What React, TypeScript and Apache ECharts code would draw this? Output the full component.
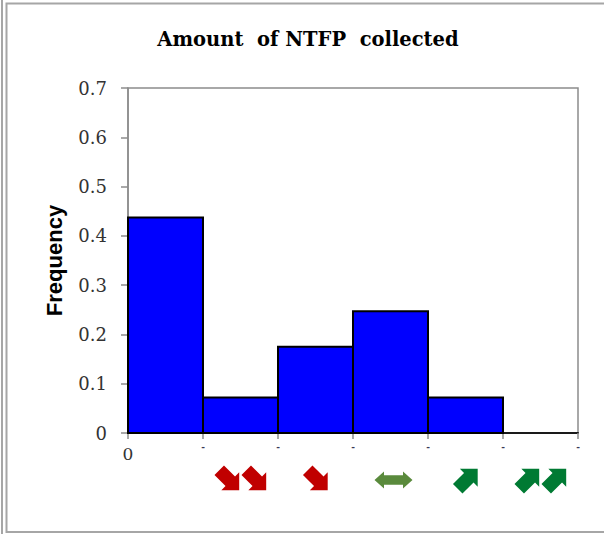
import React, { useEffect, useRef } from "react";
import * as echarts from "echarts";

const chartTitle = "Amount  of NTFP  collected";
const yAxisTitle = "Frequency";
const binStarts = [0, 1, 2, 3, 4, 5];
const binEnds = [1, 2, 3, 4, 5, 6];
const frequencies = [0.437, 0.072, 0.175, 0.247, 0.072, 0];
const yTicks = [0, 0.1, 0.2, 0.3, 0.4, 0.5, 0.6, 0.7];
const xTickLabels = ["0", "-", "-", "-", "-", "-", "-"];
// arrows under bins: bin index (0-based), kind
const arrowBins = [1, 2, 3, 4, 5];
const arrowKinds = ["down", "down", "both", "up", "up"];
const arrowCounts = [2, 1, 1, 1, 2];

const ARROW_D = "M-11.5 -5.6 L1.5 -5.6 L1.5 -10.5 L12 0 L1.5 10.5 L1.5 5.6 L-11.5 5.6 Z";
const DOUBLE_D = "M-19 0 L-9.5 -8.5 L-9.5 -4.8 L9.5 -4.8 L9.5 -8.5 L19 0 L9.5 8.5 L9.5 4.8 L-9.5 4.8 L-9.5 8.5 Z";

let registered = false;
function registerShapes() {
  if (registered) return;
  echarts.graphic.registerShape("arrowOne", echarts.graphic.extendPath(ARROW_D, {}));
  echarts.graphic.registerShape("arrowTwo", echarts.graphic.extendPath(DOUBLE_D, {}));
  registered = true;
}

export default function App() {
  const ref = useRef<HTMLDivElement>(null);
  useEffect(() => {
    document.body.style.margin = "0";
    registerShapes();
    const chart = echarts.init(ref.current!, undefined, { renderer: "svg" });
    const data = binStarts.map((s, i) => [s, binEnds[i], frequencies[i]]);
    const gridLeft = 128, gridTop = 88, gridW = 450, gridH = 345;
    chart.setOption({
      animation: false,
      backgroundColor: "#ffffff",
      grid: {
        left: gridLeft, top: gridTop, width: gridW, height: gridH,
        show: true, borderColor: "#8c8c8c", borderWidth: 1.5, backgroundColor: "transparent",
      },
      xAxis: {
        type: "value", min: 0, max: 6, interval: 1,
        axisLine: { show: true, lineStyle: { color: "#1a1a1a", width: 2 } },
        axisTick: { show: true, length: 6, lineStyle: { color: "#8c8c8c", width: 1.5 } },
        splitLine: { show: false },
        axisLabel: {
          margin: 12,
          formatter: (v: number) => {
            const t = xTickLabels[Math.round(v)];
            return t === "0" ? "{z|0}" : "{d|" + t + "}";
          },
          rich: {
            z: { fontFamily: "DejaVu Serif", fontSize: 17, color: "#333" },
            d: { fontFamily: "DejaVu Sans", fontSize: 9, fontWeight: "bold", color: "#3a3a55", padding: [-3, 0, 0, 0] },
          },
        },
      },
      yAxis: {
        type: "value", min: 0, max: 0.7, interval: 0.1,
        name: yAxisTitle, nameLocation: "middle", nameGap: 63, nameRotate: 90,
        nameTextStyle: { fontFamily: "Liberation Sans", fontWeight: "bold", fontSize: 22, color: "#000" },
        axisLine: { show: true, lineStyle: { color: "#8c8c8c", width: 1.5 } },
        axisTick: { show: true, length: 7, lineStyle: { color: "#8c8c8c", width: 1.5 } },
        splitLine: { show: false },
        axisLabel: {
          margin: 21,
          fontFamily: "DejaVu Serif", fontSize: 18, color: "#333",
          formatter: (v: number) => {
            const m = yTicks.find((t) => Math.abs(t - v) < 1e-9);
            return m === 0 ? "0" : (m ?? v).toFixed(1);
          },
        },
      },
      series: [
        {
          type: "custom",
          data,
          encode: { x: [0, 1], y: 2 },
          renderItem: (params: any, api: any) => {
            const v = api.value(2);
            if (!v) return null;
            const p0 = api.coord([api.value(0), v]);
            const p1 = api.coord([api.value(1), 0]);
            return {
              type: "rect",
              shape: { x: p0[0], y: p0[1], width: p1[0] - p0[0], height: p1[1] - p0[1] },
              style: { fill: "#0000ff", stroke: "#000000", lineWidth: 2 },
            };
          },
        },
      ],
    });

    const graphics: any[] = [
      { type: "line", shape: { x1: 2, y1: 0, x2: 2, y2: 534 }, style: { stroke: "#a6a6a6", lineWidth: 2 } },
      { type: "rect", shape: { x: 6.5, y: 3.5, width: 700, height: 528.5 }, style: { fill: "none", stroke: "#a6a6a6", lineWidth: 2 } },
      {
        type: "text", x: 308, y: 39,
        style: {
          text: chartTitle, align: "center", verticalAlign: "middle",
          font: "bold 19.5px 'DejaVu Serif'", fill: "#000",
        },
      },
    ];
    const baseY = chart.convertToPixel({ gridIndex: 0 }, [0, 0])[1] + 46;
    arrowBins.forEach((b, i) => {
      const cx = chart.convertToPixel({ gridIndex: 0 }, [(binStarts[b] + binEnds[b]) / 2, 0])[0];
      const kind = arrowKinds[i];
      const n = arrowCounts[i];
      for (let k = 0; k < n; k++) {
        const off = n === 2 ? (k === 0 ? -13.5 : 13.5) : 0;
        if (kind === "both") {
          graphics.push({ type: "arrowTwo", x: cx + off + 3, y: baseY + 1, scaleX: 1, scaleY: 1, style: { fill: "#5a8a3c" } });
        } else {
          const down = kind === "down";
          graphics.push({
            type: "arrowOne", x: cx + off + 2, y: baseY + (down ? 1 : 0),
            scaleX: 1.2, scaleY: 1.2,
            rotation: down ? -Math.PI / 4 : Math.PI / 4,
            style: { fill: down ? "#c00000" : "#007a33" },
          });
        }
      }
    });
    chart.setOption({ graphic: graphics });
    return () => chart.dispose();
  }, []);
  return <div ref={ref} style={{ width: 604, height: 534 }} />;
}
